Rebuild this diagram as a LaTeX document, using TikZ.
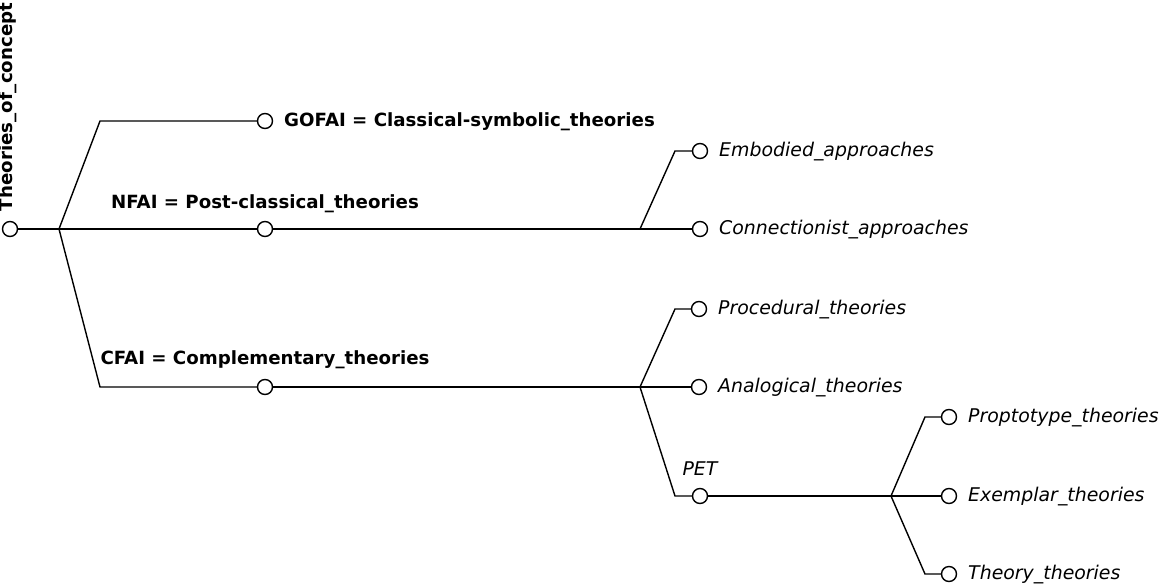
\documentclass[tikz,border=0pt]{standalone}
\usepackage{fontspec}
\setsansfont{DejaVu Sans}
\renewcommand{\familydefault}{\sfdefault}
\usetikzlibrary{positioning}
\begin{document}
\begin{tikzpicture}[
        x=1pt, y=-1pt,
        line width=1.4pt,
    ]

    \tikzstyle{dot} = [circle, draw=black, fill=white, line width=1.4pt,
                       minimum size=15pt, inner sep=0pt];
    \tikzstyle{branch} = [font=\fontsize{18.2}{22}\selectfont\bfseries,
                          text height=0.76em, text depth=0.25em];
    \tikzstyle{leaf} = [font=\fontsize{18.9}{22}\selectfont\itshape,
                        text height=0.76em, text depth=0.25em];
    \tikzstyle{side} = [yshift=-3pt];

    \useasboundingbox (0,0) rectangle (1160,587);

    % Forks
    \coordinate (f1) at (59,229);
    \coordinate (c1) at (100,121);
    \coordinate (c2) at (100,387);
    \coordinate (f2) at (640,229);
    \coordinate (c3) at (675,151);
    \coordinate (f3) at (640,387);
    \coordinate (c4) at (675,309);
    \coordinate (c5) at (675,496);
    \coordinate (f4) at (891,496);
    \coordinate (c6) at (925,417);
    \coordinate (c7) at (925,574);

    % Nodes
    \node[dot] (root) at (10,229) {};
    \node[branch, rotate=90] (rootlbl) at (10,107) {Theories\_of\_concept};

    \node[dot] (gofai) at (265,121) {};
    \node[dot] (nfai) at (265,229) {};
    \node[dot] (cfai) at (265,387) {};
    \node[branch, side, right=7pt of gofai] (gofailbl) {GOFAI = Classical-symbolic\_theories};
    \node[branch, above=6pt of nfai] (nfailbl) {NFAI = Post-classical\_theories};
    \node[branch, above=8pt of cfai] (cfailbl) {CFAI = Complementary\_theories};

    \node[dot] (embodied) at (700,151) {};
    \node[dot] (connect) at (700,229) {};
    \node[leaf, side, right=7pt of embodied] (embodiedlbl) {Embodied\_approaches};
    \node[leaf, side, right=7pt of connect] (connectlbl) {Connectionist\_approaches};

    \node[dot] (procedural) at (699,309) {};
    \node[dot] (analogical) at (699,387) {};
    \node[dot] (pet) at (700,496) {};
    \node[leaf, side, right=7pt of procedural] (procedurallbl) {Procedural\_theories};
    \node[leaf, side, right=7pt of analogical] (analogicallbl) {Analogical\_theories};
    \node[leaf, above=6pt of pet] (petlbl) {PET};

    \node[dot] (prototype) at (949,417) {};
    \node[dot] (exemplar) at (949,496) {};
    \node[dot] (theory) at (949,574) {};
    \node[leaf, side, right=7pt of prototype] (prototypelbl) {Proptotype\_theories};
    \node[leaf, side, right=7pt of exemplar] (exemplarlbl) {Exemplar\_theories};
    \node[leaf, side, right=7pt of theory] (theorylbl) {Theory\_theories};

    % Edges
    \draw (root) -- (f1);
    \draw (f1) -- (c1) -- (gofai);
    \draw (f1) -- (nfai);
    \draw (f1) -- (c2) -- (cfai);

    \draw (nfai) -- (f2);
    \draw (f2) -- (c3) -- (embodied);
    \draw (f2) -- (connect);

    \draw (cfai) -- (f3);
    \draw (f3) -- (c4) -- (procedural);
    \draw (f3) -- (analogical);
    \draw (f3) -- (c5) -- (pet);

    \draw (pet) -- (f4);
    \draw (f4) -- (c6) -- (prototype);
    \draw (f4) -- (exemplar);
    \draw (f4) -- (c7) -- (theory);

\end{tikzpicture}
\end{document}
